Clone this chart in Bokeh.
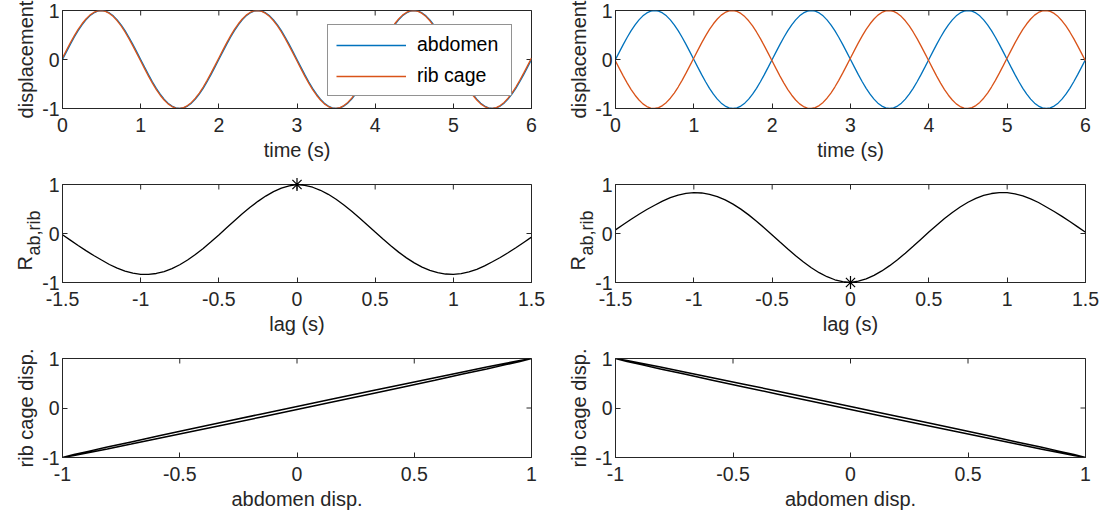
import numpy as np
from bokeh.plotting import figure
from bokeh.models import Range1d, FixedTicker, Legend, LegendItem
from bokeh.layouts import column, row
from bokeh.embed import file_html
from bokeh.resources import INLINE
from bokeh.core.properties import value

# ---------------------------------------------------------------- data
# sampling grids (s)
time_s = np.round(np.arange(121) * 0.05, 2)
lag_s = np.round(np.arange(-30, 31) * 0.05, 2)

abdomen = [
    0.000, 0.156, 0.309, 0.454, 0.588, 0.707, 0.809, 0.891, 0.951, 0.988,
    1.000, 0.988, 0.951, 0.891, 0.809, 0.707, 0.588, 0.454, 0.309, 0.156,
    0.000, -0.156, -0.309, -0.454, -0.588, -0.707, -0.809, -0.891, -0.951, -0.988,
    -1.000, -0.988, -0.951, -0.891, -0.809, -0.707, -0.588, -0.454, -0.309, -0.156,
    0.000, 0.156, 0.309, 0.454, 0.588, 0.707, 0.809, 0.891, 0.951, 0.988,
    1.000, 0.988, 0.951, 0.891, 0.809, 0.707, 0.588, 0.454, 0.309, 0.156,
    0.000, -0.156, -0.309, -0.454, -0.588, -0.707, -0.809, -0.891, -0.951, -0.988,
    -1.000, -0.988, -0.951, -0.891, -0.809, -0.707, -0.588, -0.454, -0.309, -0.156,
    0.000, 0.156, 0.309, 0.454, 0.588, 0.707, 0.809, 0.891, 0.951, 0.988,
    1.000, 0.988, 0.951, 0.891, 0.809, 0.707, 0.588, 0.454, 0.309, 0.156,
    0.000, -0.156, -0.309, -0.454, -0.588, -0.707, -0.809, -0.891, -0.951, -0.988,
    -1.000, -0.988, -0.951, -0.891, -0.809, -0.707, -0.588, -0.454, -0.309, -0.156,
    0.000,
]

rib_cage_in_phase = [
    0.031, 0.187, 0.339, 0.482, 0.613, 0.729, 0.827, 0.905, 0.960, 0.992,
    1.000, 0.982, 0.941, 0.876, 0.790, 0.685, 0.562, 0.426, 0.279, 0.125,
    -0.031, -0.187, -0.339, -0.482, -0.613, -0.729, -0.827, -0.905, -0.960, -0.992,
    -1.000, -0.982, -0.941, -0.876, -0.790, -0.685, -0.562, -0.426, -0.279, -0.125,
    0.031, 0.187, 0.339, 0.482, 0.613, 0.729, 0.827, 0.905, 0.960, 0.992,
    1.000, 0.982, 0.941, 0.876, 0.790, 0.685, 0.562, 0.426, 0.279, 0.125,
    -0.031, -0.187, -0.339, -0.482, -0.613, -0.729, -0.827, -0.905, -0.960, -0.992,
    -1.000, -0.982, -0.941, -0.876, -0.790, -0.685, -0.562, -0.426, -0.279, -0.125,
    0.031, 0.187, 0.339, 0.482, 0.613, 0.729, 0.827, 0.905, 0.960, 0.992,
    1.000, 0.982, 0.941, 0.876, 0.790, 0.685, 0.562, 0.426, 0.279, 0.125,
    -0.031, -0.187, -0.339, -0.482, -0.613, -0.729, -0.827, -0.905, -0.960, -0.992,
    -1.000, -0.982, -0.941, -0.876, -0.790, -0.685, -0.562, -0.426, -0.279, -0.125,
    0.031,
]

rib_cage_anti_phase = [
    -0.031, -0.187, -0.339, -0.482, -0.613, -0.729, -0.827, -0.905, -0.960, -0.992,
    -1.000, -0.982, -0.941, -0.876, -0.790, -0.685, -0.562, -0.426, -0.279, -0.125,
    0.031, 0.187, 0.339, 0.482, 0.613, 0.729, 0.827, 0.905, 0.960, 0.992,
    1.000, 0.982, 0.941, 0.876, 0.790, 0.685, 0.562, 0.426, 0.279, 0.125,
    -0.031, -0.187, -0.339, -0.482, -0.613, -0.729, -0.827, -0.905, -0.960, -0.992,
    -1.000, -0.982, -0.941, -0.876, -0.790, -0.685, -0.562, -0.426, -0.279, -0.125,
    0.031, 0.187, 0.339, 0.482, 0.613, 0.729, 0.827, 0.905, 0.960, 0.992,
    1.000, 0.982, 0.941, 0.876, 0.790, 0.685, 0.562, 0.426, 0.279, 0.125,
    -0.031, -0.187, -0.339, -0.482, -0.613, -0.729, -0.827, -0.905, -0.960, -0.992,
    -1.000, -0.982, -0.941, -0.876, -0.790, -0.685, -0.562, -0.426, -0.279, -0.125,
    0.031, 0.187, 0.339, 0.482, 0.613, 0.729, 0.827, 0.905, 0.960, 0.992,
    1.000, 0.982, 0.941, 0.876, 0.790, 0.685, 0.562, 0.426, 0.279, 0.125,
    -0.031,
]

xcorr_in_phase = [
    -0.026, -0.135, -0.244, -0.350, -0.450, -0.542, -0.632, -0.708, -0.768, -0.810,
    -0.833, -0.835, -0.816, -0.777, -0.717, -0.638, -0.541, -0.430, -0.305, -0.170,
    -0.029, 0.116, 0.260, 0.401, 0.534, 0.656, 0.764, 0.854, 0.925, 0.974,
    1.000,
    0.984, 0.944, 0.882, 0.800, 0.699, 0.582, 0.454, 0.316, 0.173, 0.029,
    -0.114, -0.251, -0.380, -0.497, -0.599, -0.685, -0.752, -0.800, -0.827, -0.833,
    -0.818, -0.784, -0.731, -0.662, -0.577, -0.490, -0.393, -0.290, -0.182, -0.074,
]

xcorr_anti_phase = [
    0.074, 0.182, 0.290, 0.393, 0.490, 0.577, 0.662, 0.731, 0.784, 0.818,
    0.833, 0.827, 0.800, 0.752, 0.685, 0.599, 0.497, 0.380, 0.251, 0.114,
    -0.029, -0.173, -0.316, -0.454, -0.582, -0.699, -0.800, -0.882, -0.944, -0.984,
    -1.000,
    -0.974, -0.925, -0.854, -0.764, -0.656, -0.534, -0.401, -0.260, -0.116, 0.029,
    0.170, 0.305, 0.430, 0.541, 0.638, 0.717, 0.777, 0.816, 0.835, 0.833,
    0.810, 0.768, 0.708, 0.632, 0.542, 0.450, 0.350, 0.244, 0.135, 0.026,
]

peak_in_phase = ([0.0], [1.0])
peak_anti_phase = ([0.0], [-1.0])

time_ticks = [0, 1, 2, 3, 4, 5, 6]
time_tick_labels = ["0", "1", "2", "3", "4", "5", "6"]
lag_ticks = [-1.5, -1, -0.5, 0, 0.5, 1, 1.5]
lag_tick_labels = ["-1.5", "-1", "-0.5", "0", "0.5", "1", "1.5"]
disp_ticks = [-1, -0.5, 0, 0.5, 1]
disp_tick_labels = ["-1", "-0.5", "0", "0.5", "1"]
unit_ticks = [-1, 0, 1]
unit_tick_labels = ["-1", "0", "1"]

# ---------------------------------------------------------------- style
BLUE = "#0072BD"
ORANGE = "#D95319"
INK = "#262626"
FONT = "Liberation Sans"
TICK_SIZE = "19.5px"
LABEL_SIZE = "20px"
SUB_SIZE = "18px"
Y_SPAN = (-1, 1)


def style_axis(ax, ticks, labels):
    ax.ticker = FixedTicker(ticks=ticks)
    ax.major_tick_in = 5
    ax.major_tick_out = 0
    ax.minor_tick_in = 0
    ax.minor_tick_out = 0
    ax.axis_line_color = INK
    ax.axis_line_width = 1
    ax.major_tick_line_color = INK
    ax.major_tick_line_width = 1
    ax.major_label_overrides = {float(t): s for t, s in zip(ticks, labels)}
    ax.major_label_text_font = FONT
    ax.major_label_text_font_size = TICK_SIZE
    ax.major_label_text_color = INK
    ax.axis_label_text_font = FONT
    ax.axis_label_text_font_size = LABEL_SIZE
    ax.axis_label_text_font_style = "normal"
    ax.axis_label_text_color = INK


def panel(width, height, left, right, bottom, x_span, x_ticks, x_labels,
          y_ticks, y_labels, x_title, y_title):
    p = figure(width=width, height=height, output_backend="svg",
               toolbar_location=None,
               x_range=Range1d(*x_span), y_range=Range1d(*Y_SPAN),
               min_border_left=left, min_border_right=right,
               min_border_top=10, min_border_bottom=bottom)
    p.outline_line_color = INK
    p.outline_line_width = 1
    p.background_fill_color = "white"
    p.border_fill_color = "white"
    p.grid.visible = False

    xa = p.xaxis[0]
    ya = p.yaxis[0]
    style_axis(xa, x_ticks, x_labels)
    style_axis(ya, y_ticks, y_labels)
    xa.axis_label = x_title
    xa.major_label_standoff = 9
    xa.axis_label_standoff = 4
    ya.axis_label = y_title
    ya.major_label_standoff = 3
    ya.axis_label_standoff = 2

    # matching tick marks along the top and right edges (half of each
    # dash falls outside the frame and is clipped away)
    p.scatter(x_ticks, [Y_SPAN[1]] * len(x_ticks), marker="dash", size=10,
              angle=np.pi / 2, line_color=INK, line_width=1)
    p.scatter([x_span[1]] * len(y_ticks), y_ticks, marker="dash", size=10,
              line_color=INK, line_width=1)
    return p


def r_title(p, x_start):
    # y-axis title R with the subscript "ab,rib", written upward and
    # anchored to the lower-left corner of the frame
    common = dict(angle=np.pi / 2, text_font=value(FONT), text_color=INK,
                  text_align="left", text_baseline="alphabetic", level="overlay")
    p.text(x=[x_start], y=[Y_SPAN[0]], text=["R"], x_offset=-38, y_offset=-12,
           text_font_size=LABEL_SIZE, **common)
    p.text(x=[x_start], y=[Y_SPAN[0]], text=["ab,rib"], x_offset=-29, y_offset=-27,
           text_font_size=SUB_SIZE, **common)


LEFT_W, RIGHT_W = 560, 543

# row 1: displacement vs time
p1 = panel(LEFT_W, 174, 62, 29, 66, (0, 6), time_ticks, time_tick_labels,
           unit_ticks, unit_tick_labels, "time (s)", "displacement")
r_ab = p1.line(time_s, abdomen, line_color=BLUE, line_width=1.3)
r_rib = p1.line(time_s, rib_cage_in_phase, line_color=ORANGE, line_width=1.3)
legend = Legend(items=[LegendItem(label="abdomen", renderers=[r_ab]),
                       LegendItem(label="rib cage", renderers=[r_rib])],
                location=(265, 12))
legend.margin = 0
legend.padding = 8
legend.spacing = 8
legend.glyph_width = 70
legend.glyph_height = 20
legend.label_height = 20
legend.label_width = 86
legend.label_standoff = 11
legend.label_text_font = FONT
legend.label_text_font_size = TICK_SIZE
legend.label_text_color = "black"
legend.border_line_color = INK
legend.border_line_width = 1
legend.background_fill_color = "white"
legend.background_fill_alpha = 1
p1.add_layout(legend)

p2 = panel(RIGHT_W, 174, 55, 18, 66, (0, 6), time_ticks, time_tick_labels,
           unit_ticks, unit_tick_labels, "time (s)", "displacement")
p2.line(time_s, abdomen, line_color=BLUE, line_width=1.3)
p2.line(time_s, rib_cage_anti_phase, line_color=ORANGE, line_width=1.3)

# row 2: cross-correlation vs lag
p3 = panel(LEFT_W, 174, 62, 29, 66, (-1.5, 1.5), lag_ticks, lag_tick_labels,
           unit_ticks, unit_tick_labels, "lag (s)", None)
p3.line(lag_s, xcorr_in_phase, line_color="black", line_width=1.3)
p3.scatter(*peak_in_phase, marker="asterisk", size=13, line_color="black",
           line_width=1.2, level="overlay")
r_title(p3, -1.5)

p4 = panel(RIGHT_W, 174, 55, 18, 66, (-1.5, 1.5), lag_ticks, lag_tick_labels,
           unit_ticks, unit_tick_labels, "lag (s)", None)
p4.line(lag_s, xcorr_anti_phase, line_color="black", line_width=1.3)
p4.scatter(*peak_anti_phase, marker="asterisk", size=13, line_color="black",
           line_width=1.2, level="overlay")
r_title(p4, -1.5)

# row 3: rib cage vs abdomen
p5 = panel(LEFT_W, 168, 62, 29, 59, (-1, 1), disp_ticks, disp_tick_labels,
           unit_ticks, unit_tick_labels, "abdomen disp.", "rib cage disp.")
p5.line(abdomen, rib_cage_in_phase, line_color="black", line_width=1.5)

p6 = panel(RIGHT_W, 168, 55, 18, 59, (-1, 1), disp_ticks, disp_tick_labels,
           unit_ticks, unit_tick_labels, "abdomen disp.", "rib cage disp.")
p6.line(abdomen, rib_cage_anti_phase, line_color="black", line_width=1.5)

layout = column(row(p1, p2), row(p3, p4), row(p5, p6))
open("out.html", "w").write(file_html(layout, INLINE))
